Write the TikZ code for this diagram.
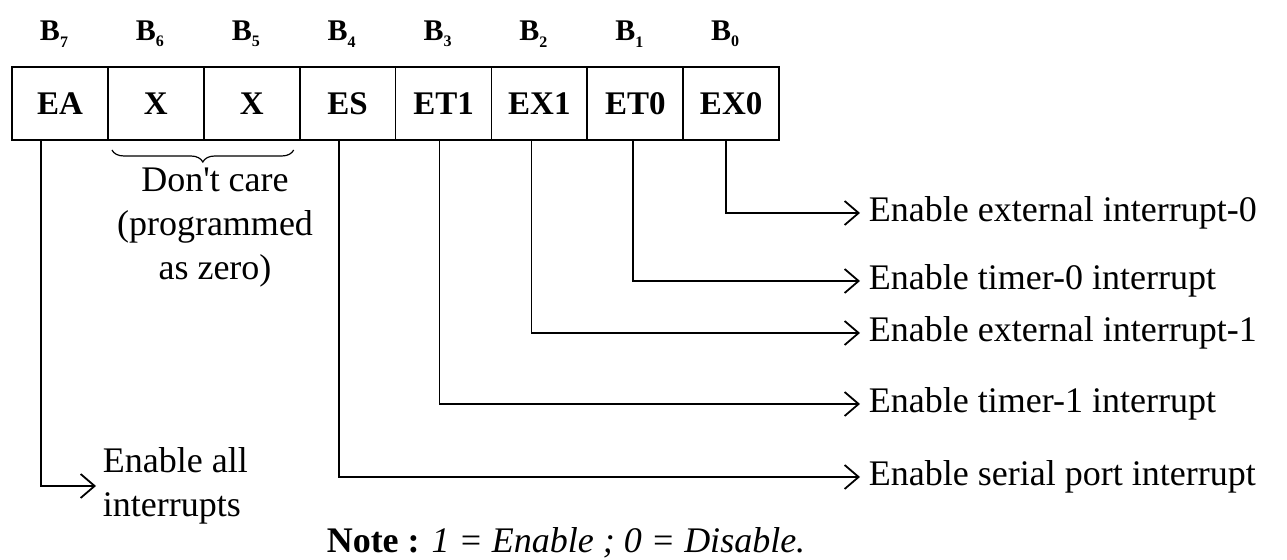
\documentclass[tikz,border=0pt]{standalone}
\usepackage{fontspec}
\setmainfont{Liberation Serif}
\usetikzlibrary{arrows.meta, positioning, decorations.pathreplacing}

\newcommand{\bitname}[1]{B\raisebox{-0.5ex}{\fontsize{8}{8}\selectfont #1}}

\begin{document}
\begin{tikzpicture}[x=0.5pt, y=-0.5pt, line width=0.9pt, node distance=0pt,
        font=\fontsize{18}{22}\selectfont,
        regcell/.style={draw, rectangle, outer sep=0pt, minimum width=47.94pt, minimum height=36.5pt, font=\fontsize{16.5}{16.5}\selectfont\bfseries},
        bitlbl/.style={inner sep=0pt, font=\fontsize{15}{15}\selectfont\bfseries},
        flaglbl/.style={anchor=west, inner sep=4pt},
        flagarrow/.style={-{Straight Barb[length=7pt, width=12pt]}}]
        \useasboundingbox (0,0) rectangle (1287,560);

        % Register
        \node (ea) [regcell] at (60,103.5) {EA};
        \node (xsix) [regcell, right=of ea] {X};
        \node (xfive) [regcell, right=of xsix] {X};
        \node (es) [regcell, right=of xfive] {ES};
        \node (etone) [regcell, right=of es] {ET1};
        \node (exone) [regcell, right=of etone] {EX1};
        \node (etzero) [regcell, right=of exone] {ET0};
        \node (exzero) [regcell, right=of etzero] {EX0};
        \draw[line width=1.3pt] (ea.north west) rectangle (exzero.south east);

        % Bit numbers
        \node (bseven) [bitlbl, above=9.5pt of ea, xshift=-3pt] {\bitname{7}};
        \node (bsix) [bitlbl, above=9.5pt of xsix, xshift=-3pt] {\bitname{6}};
        \node (bfive) [bitlbl, above=9.5pt of xfive, xshift=-3pt] {\bitname{5}};
        \node (bfour) [bitlbl, above=9.5pt of es, xshift=-3pt] {\bitname{4}};
        \node (bthree) [bitlbl, above=9.5pt of etone, xshift=-3pt] {\bitname{3}};
        \node (btwo) [bitlbl, above=9.5pt of exone, xshift=-3pt] {\bitname{2}};
        \node (bone) [bitlbl, above=9.5pt of etzero, xshift=-3pt] {\bitname{1}};
        \node (bzero) [bitlbl, above=9.5pt of exzero, xshift=-3pt] {\bitname{0}};

        % Don't care bits
        \draw[line width=0.6pt, decorate, decoration={brace, mirror, amplitude=6pt}]
            ([xshift=2pt, yshift=-5pt]xsix.south west) -- ([xshift=-3pt, yshift=-5pt]xfive.south east);
        \node (dontcare) [align=center] at (215,228) {Don\textquotesingle t care\\(programmed\\as zero)};

        % Flag texts
        \node (extzero) [flaglbl] at (860,213) {Enable external interrupt-0};
        \node (timzero) [flaglbl] at (860,281) {Enable timer-0 interrupt};
        \node (extone) [flaglbl] at (860,333) {Enable external interrupt-1};
        \node (timone) [flaglbl] at (860,404) {Enable timer-1 interrupt};
        \node (serial) [flaglbl] at (860,477) {Enable serial port interrupt};
        \node (allint) [flaglbl, align=left, inner sep=3pt] at (96,486) {Enable all\\interrupts};

        % Arrows
        \draw[flagarrow] ([xshift=-2.5pt]exzero.south) |- (extzero.west);
        \draw[flagarrow] ([xshift=-1pt]etzero.south) |- (timzero.west);
        \draw[flagarrow] ([xshift=-4pt]exone.south) |- (extone.west);
        \draw[flagarrow] ([xshift=-2pt]etone.south) |- (timone.west);
        \draw[flagarrow] ([xshift=-4.5pt]es.south) |- (serial.west);
        \draw[flagarrow] ([xshift=-9.5pt]ea.south) |- (allint.west);

        % Note
        \node (note) at (566,543) {\textbf{Note :} \textit{1 = Enable ; 0 = Disable.}};
    \end{tikzpicture}
\end{document}
